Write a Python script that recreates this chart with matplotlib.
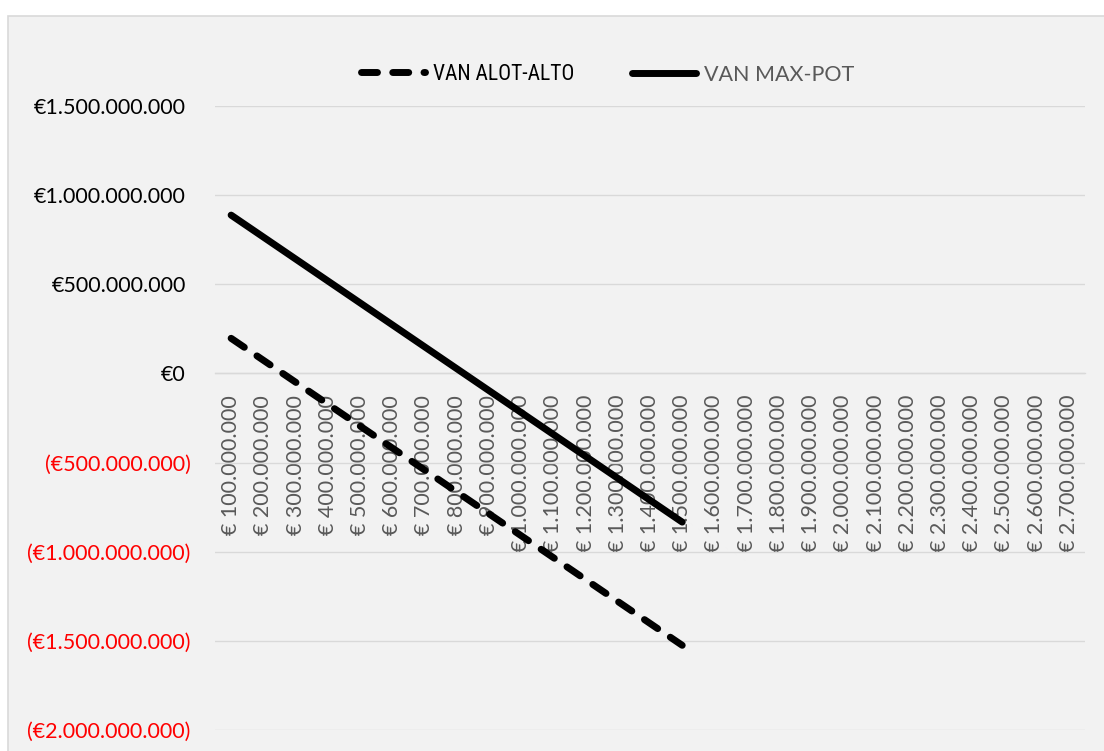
import matplotlib
matplotlib.use("Agg")
import matplotlib.pyplot as plt
from matplotlib import font_manager
from matplotlib.patches import Rectangle
from matplotlib.transforms import ScaledTranslation
from matplotlib.lines import Line2D

# investment levels (categories on the x axis)
inversion = [100, 200, 300, 400, 500, 600, 700, 800, 900, 1000, 1100, 1200, 1300, 1400,
             1500, 1600, 1700, 1800, 1900, 2000, 2100, 2200, 2300, 2400, 2500, 2600, 2700]
# NPV in millions of euros, one value per investment level up to 1.500.000.000
van_alot_alto = [197, 74, -49, -172, -295, -418, -541, -664, -787, -910,
                 -1033, -1156, -1279, -1402, -1525]
van_max_pot = [888, 765, 642, 519, 396, 273, 150, 27, -96, -219,
               -342, -465, -588, -711, -834]
y_ticks = [1500, 1000, 500, 0, -500, -1000, -1500, -2000]


def miles(v):
    return f"{v:,.0f}".replace(",", ".")


def eur_label(v):
    v = v * 1_000_000
    return f"€{miles(v)}" if v >= 0 else f"(€{miles(-v)})"


def pick_font(names):
    have = {f.name for f in font_manager.fontManager.ttflist}
    for n in names:
        if n in have:
            return n
    return "DejaVu Sans"


BASE = pick_font(["Lato", "Liberation Sans", "DejaVu Sans"])
NARROW = pick_font(["Liberation Sans Narrow", "Roboto Condensed", "DejaVu Sans Condensed", "Liberation Sans"])
GRID = "#d9d9d9"
GREY = "#595959"

plt.rcParams["font.family"] = [BASE, "DejaVu Sans"]

W, H = 1104, 751
fig = plt.figure(figsize=(W / 100, H / 100), dpi=100)
fig.patch.set_facecolor("white")
fig.patches.append(Rectangle((8 / W, -0.1), 1.2, 1.1 - 16 / H, transform=fig.transFigure,
                             facecolor="#f2f2f2", edgecolor=GRID, linewidth=1.2, zorder=-5))

ax = fig.add_axes([215 / W, 1 - 730 / H, 870 / W, 624 / H])
ax.set_facecolor("none")

x = list(range(len(inversion)))
ax.plot(x[:len(van_max_pot)], van_max_pot, color="black", lw=5,
        solid_capstyle="round", label="VAN MAX-POT", zorder=3)
ax.plot(x[:len(van_alot_alto)], van_alot_alto, color="black", lw=5,
        dashes=(2.3, 2.2), dash_capstyle="round", label="VAN ALOT-ALTO", zorder=3)

ax.set_xlim(-0.5, len(inversion) - 0.5)
ax.set_ylim(-2000, 1500)

# y axis: euro format, losses in red between brackets
ax.set_yticks(y_ticks, labels=[eur_label(v) for v in y_ticks])
ax.tick_params(axis="y", length=0, pad=17.5, labelsize=15.5)
for v, lab in zip(y_ticks, ax.get_yticklabels()):
    if v < 0:
        lab.set_color("#ff0000")
    else:
        lab.set_color("black")
        lab.set_transform(lab.get_transform() + ScaledTranslation(-5 / 100, 0, fig.dpi_scale_trans))

# x axis sits on the zero line
ax.spines["bottom"].set_position(("data", 0))
ax.spines["bottom"].set_color(GRID)
ax.spines["bottom"].set_linewidth(1)
for s in ("top", "right", "left"):
    ax.spines[s].set_visible(False)
ax.set_xticks(x, labels=[f"€ {miles(v * 1_000_000)}" for v in inversion])
ax.tick_params(axis="x", length=0, pad=15.5, labelsize=15.5, labelcolor=GREY, labelrotation=90)
for lab in ax.get_xticklabels():
    lab.set_verticalalignment("top")

ax.grid(axis="y", color=GRID, lw=1)
ax.set_axisbelow(True)

# legend, two entries laid out side by side
h_dash = Line2D([], [], color="black", lw=5, dashes=(2.3, 2.2), dash_capstyle="round")
h_solid = Line2D([], [], color="black", lw=5, solid_capstyle="round")
common = dict(frameon=False, loc="center left", borderpad=0, borderaxespad=0,
              handlelength=3.0, handletextpad=0.35, fontsize=15.5)
leg1 = fig.legend([h_dash], ["VAN ALOT-ALTO"], bbox_to_anchor=(360.5 / W, 1 - 74 / H), **common)
leg1.get_texts()[0].set_fontfamily(NARROW)
leg1.get_texts()[0].set_color("black")
leg2 = fig.legend([h_solid], ["VAN MAX-POT"], bbox_to_anchor=(631.5 / W, 1 - 75 / H), **common)
leg2.get_texts()[0].set_color(GREY)

fig.savefig("out.png", dpi=100)
